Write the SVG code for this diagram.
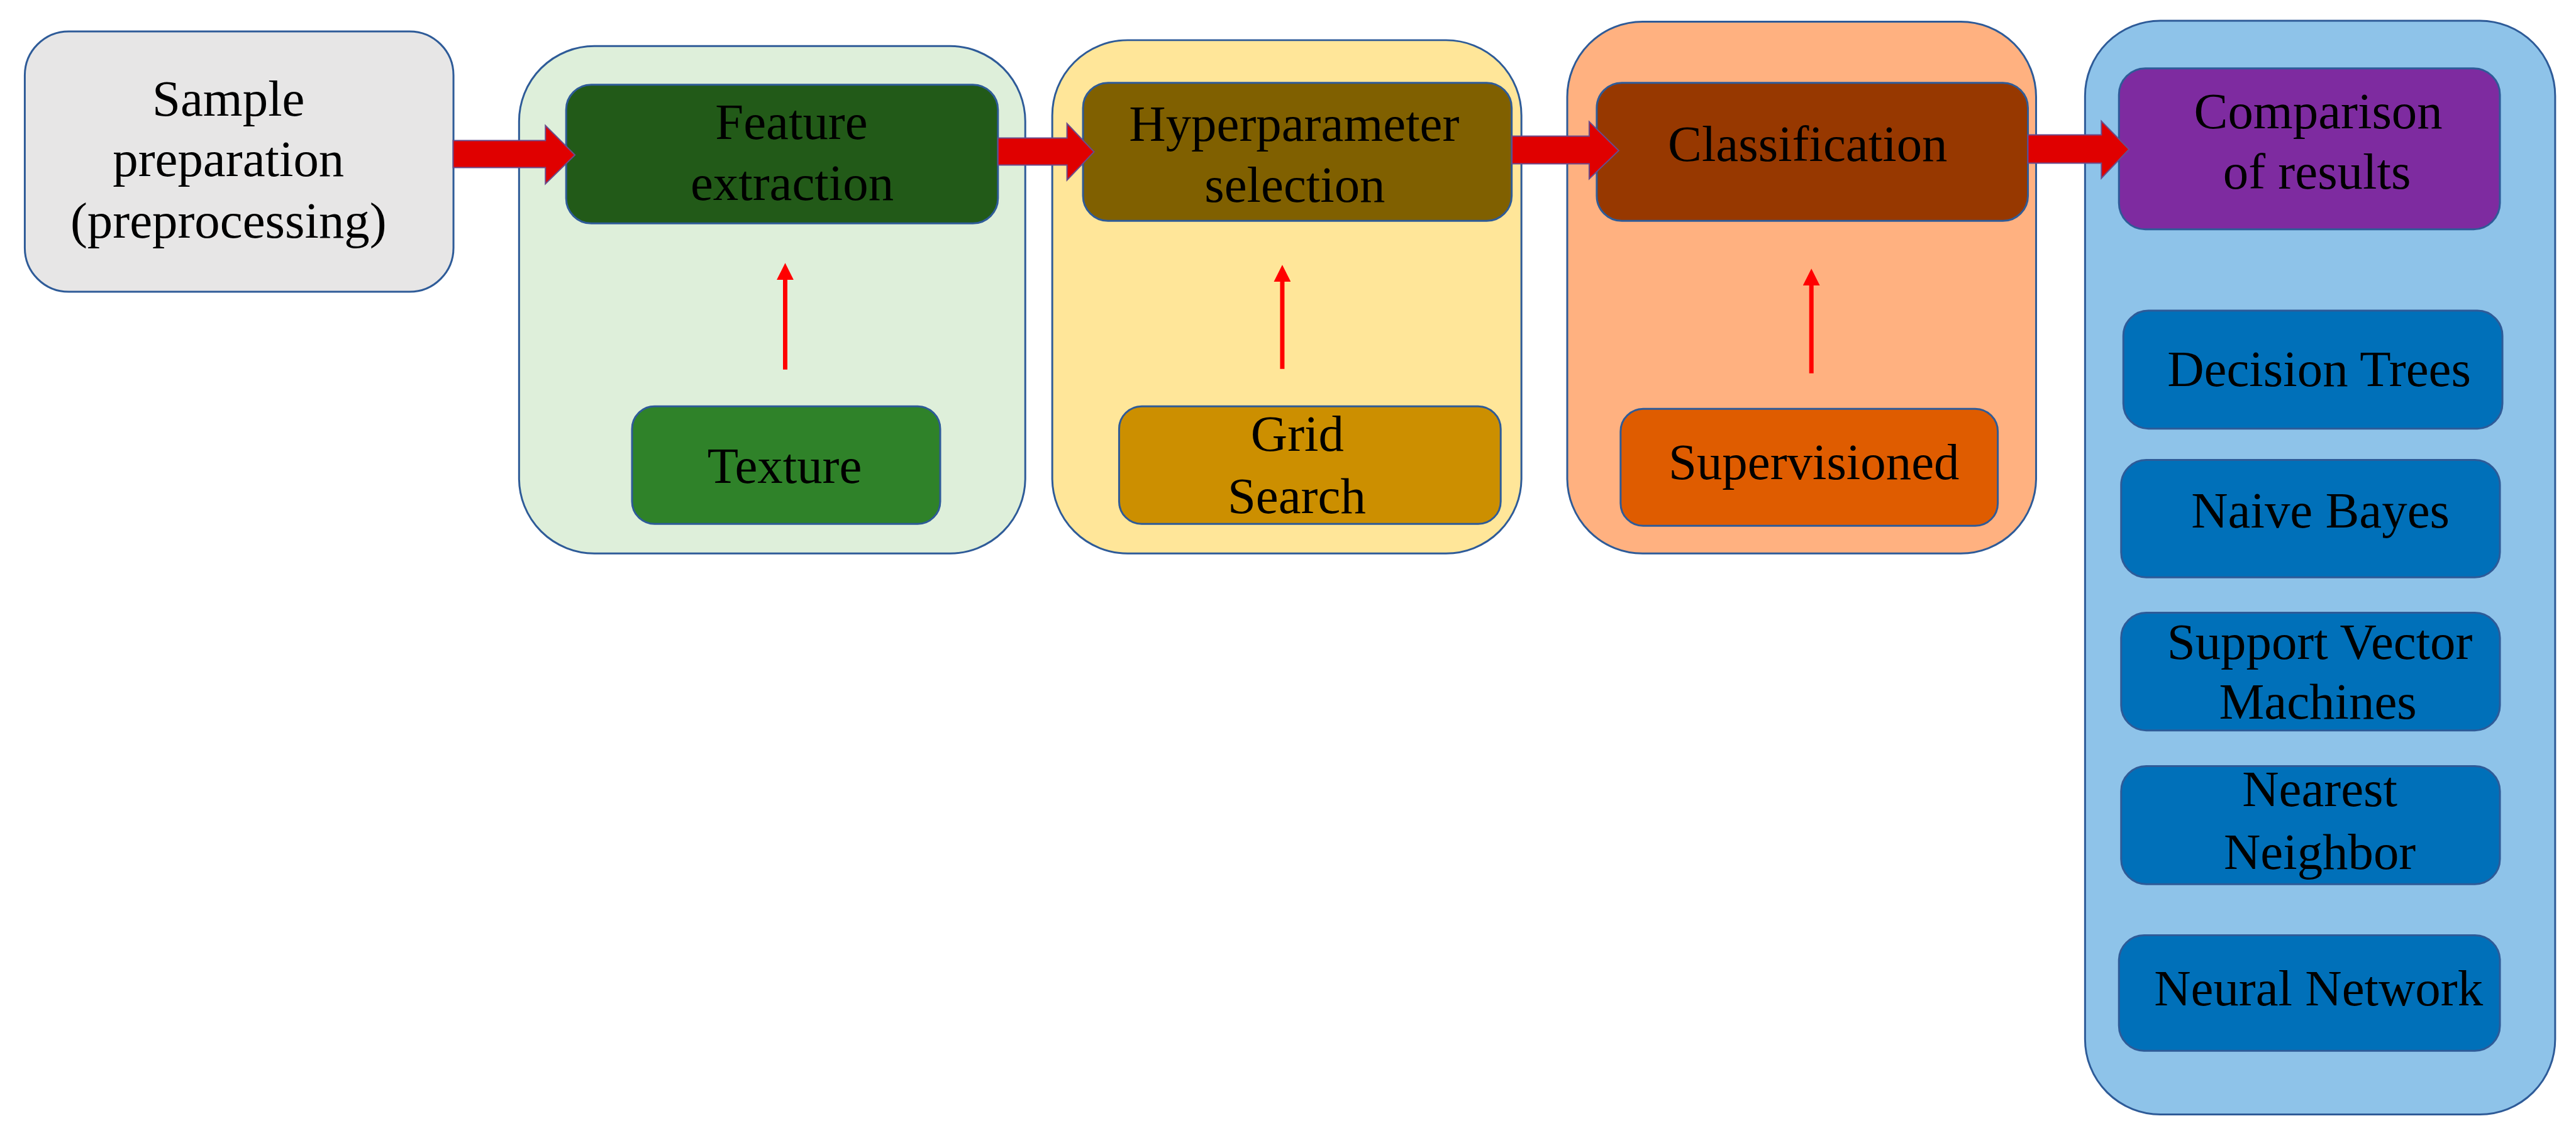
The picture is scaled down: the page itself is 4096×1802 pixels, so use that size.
<svg xmlns="http://www.w3.org/2000/svg" width="4096" height="1802" viewBox="0 0 4096 1802">
<style>
  .box { stroke: #2E5B98; stroke-width: 3; }
  .lbl { font-family: "Liberation Serif", "Times New Roman", serif; font-size: 81px; fill: #000; text-anchor: middle; }
  .block { fill: #E00000; stroke: #6A4C8C; stroke-width: 2; stroke-linejoin: miter; }
  .thin { stroke: #FF0000; stroke-width: 7; fill: none; }
</style>
<defs>
  <marker id="head" viewBox="0 0 27 27" refX="0" refY="13.5" markerWidth="27" markerHeight="27" markerUnits="userSpaceOnUse" orient="auto">
    <path d="M0,0 L27,13.5 L0,27 Z" fill="#FF0000"/>
  </marker>
</defs>
<rect width="4096" height="1802" fill="#FFFFFF"/>
<g transform="scale(0.998)">
  <g id="sample">
    <rect class="box" x="39.5" y="50" width="683" height="415" rx="70" fill="#E7E6E6"/>
    <text class="lbl" x="364" y="184">Sample</text>
    <text class="lbl" x="364" y="281">preparation</text>
    <text class="lbl" x="364" y="379">(preprocessing)</text>
  </g>
  <g id="stage-feature">
    <rect class="box" x="827" y="73.5" width="806.5" height="808.5" rx="120" fill="#DEEFDA"/>
  </g>
  <g id="stage-hyper">
    <rect class="box" x="1676.5" y="64" width="747.5" height="818" rx="120" fill="#FFE699"/>
  </g>
  <g id="stage-class">
    <rect class="box" x="2497" y="34.5" width="747" height="847.5" rx="120" fill="#FFB180"/>
  </g>
  <g id="stage-results">
    <rect class="box" x="3322" y="33" width="749" height="1743" rx="120" fill="#8EC3E9"/>
  </g>
  <g id="feature">
    <rect class="box" x="902" y="135" width="688" height="221" rx="40" fill="#225A18"/>
    <text class="lbl" x="1261" y="221">Feature</text>
    <text class="lbl" x="1262" y="318.5">extraction</text>
  </g>
  <g id="texture">
    <rect class="box" x="1007" y="647.5" width="491" height="187.5" rx="36" fill="#2F8229"/>
    <text class="lbl" x="1250" y="770">Texture</text>
  </g>
  <g id="hyper">
    <rect class="box" x="1725.5" y="132" width="683" height="220" rx="40" fill="#806000"/>
    <text class="lbl" x="2062" y="224">Hyperparameter</text>
    <text class="lbl" x="2063" y="321.5">selection</text>
  </g>
  <g id="grid">
    <rect class="box" x="1783" y="647.5" width="608" height="187.5" rx="36" fill="#CC8F00"/>
    <text class="lbl" x="2067" y="718.5">Grid</text>
    <text class="lbl" x="2066" y="818">Search</text>
  </g>
  <g id="classification">
    <rect class="box" x="2544" y="132" width="687" height="220" rx="40" fill="#973800"/>
    <text class="lbl" x="2880" y="257">Classification</text>
  </g>
  <g id="supervisioned">
    <rect class="box" x="2582" y="651.5" width="601" height="186.5" rx="36" fill="#DF5C00"/>
    <text class="lbl" x="2890" y="763.5">Supervisioned</text>
  </g>
  <g id="comparison">
    <rect class="box" x="3376" y="109" width="607" height="256.5" rx="42" fill="#7E2BA0"/>
    <text class="lbl" x="3693.5" y="204">Comparison</text>
    <text class="lbl" x="3691.5" y="301">of results</text>
  </g>
  <g id="decision-trees">
    <rect class="box" x="3383" y="495" width="604" height="188" rx="40" fill="#0070B9"/>
    <text class="lbl" x="3695" y="615">Decision Trees</text>
  </g>
  <g id="naive-bayes">
    <rect class="box" x="3379.5" y="733" width="603.5" height="187" rx="40" fill="#0070B9"/>
    <text class="lbl" x="3697" y="841">Naive Bayes</text>
  </g>
  <g id="svm">
    <rect class="box" x="3379.5" y="976.5" width="603.5" height="187.5" rx="40" fill="#0070B9"/>
    <text class="lbl" x="3696" y="1050">Support Vector</text>
    <text class="lbl" x="3693" y="1145">Machines</text>
  </g>
  <g id="nearest-neighbor">
    <rect class="box" x="3379.5" y="1221" width="603.5" height="188" rx="40" fill="#0070B9"/>
    <text class="lbl" x="3696" y="1285">Nearest</text>
    <text class="lbl" x="3696" y="1384.5">Neighbor</text>
  </g>
  <g id="neural-network">
    <rect class="box" x="3376" y="1490.5" width="607" height="184" rx="40" fill="#0070B9"/>
    <text class="lbl" x="3694" y="1602">Neural Network</text>
  </g>
  <g id="connectors">
    <path class="block" d="M722,224 L869,224 L869,200 L916,247 L869,293 L869,267 L722,267 Z"/>
    <path class="block" d="M1590,220 L1700,220 L1700,197 L1743,242 L1700,287 L1700,263 L1590,263 Z"/>
    <path class="block" d="M2409,217 L2532,217 L2532,194 L2579,240 L2532,285 L2532,261 L2409,261 Z"/>
    <path class="block" d="M3231,215 L3348,215 L3348,193 L3392,238 L3348,284 L3348,260 L3231,260 Z"/>
    <line class="thin" x1="1251" y1="589" x2="1251" y2="446" marker-end="url(#head)"/>
    <line class="thin" x1="2043" y1="588" x2="2043" y2="449" marker-end="url(#head)"/>
    <line class="thin" x1="2886" y1="595" x2="2886" y2="455" marker-end="url(#head)"/>
  </g>
</g>
</svg>
